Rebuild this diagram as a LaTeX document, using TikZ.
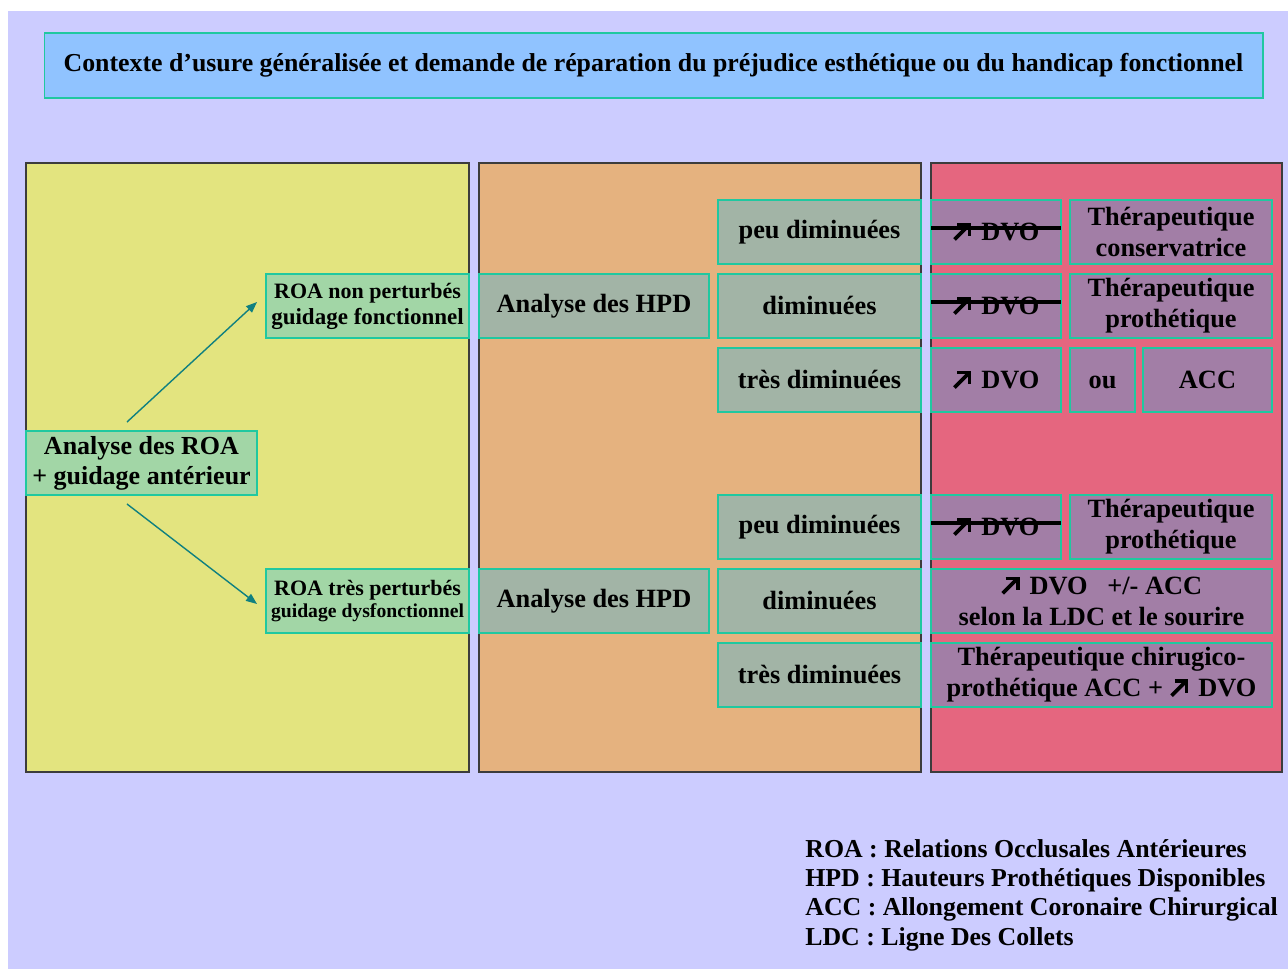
\documentclass[tikz,border=0pt]{standalone}
\usepackage{fontspec}
\setmainfont{Liberation Serif}
\usetikzlibrary{arrows.meta}

\definecolor{bgLav}{HTML}{CCCCFF}
\definecolor{titleBlue}{HTML}{90C3FF}
\definecolor{boxLine}{HTML}{20C8A0}
\definecolor{panelLine}{HTML}{3C3C3C}
\definecolor{panelYellow}{HTML}{E3E47F}
\definecolor{panelOrange}{HTML}{E5B27F}
\definecolor{panelPink}{HTML}{E5667F}
\definecolor{roaGreen}{HTML}{A2D6A6}
\definecolor{hpdGrey}{HTML}{A2B4A6}
\definecolor{therPurple}{HTML}{A27EA6}
\definecolor{arrowTeal}{HTML}{108080}

% the thick north-east arrow in front of DVO
\newcommand{\dvoArrow}{\tikz[x=1cm, y=1cm, baseline=0pt]{%
  \draw[black, line width=2.1pt] (0.02,0.02) -- (0.29,0.29);
  \draw[black, line width=2.1pt, line join=miter] (0.08,0.32) -- (0.32,0.32) -- (0.32,0.08);}\hspace{0.2cm}}

\tikzset{
  panel/.style={draw=panelLine, line width=0.7pt},
  box/.style={draw=boxLine, line width=0.7pt, inner sep=0pt, outer sep=0pt,
    minimum height=1.28cm, align=center,
    font=\bfseries\fontsize{15}{17.5}\selectfont},
  titlebox/.style={box, fill=titleBlue, minimum width=24.38cm, minimum height=1.3cm,
    font=\bfseries\fontsize{14.7}{17}\selectfont},
  roabox/.style={box, fill=roaGreen},
  hpdbox/.style={box, fill=hpdGrey},
  therbox/.style={box, fill=therPurple},
  flow/.style={draw=arrowTeal, line width=0.8pt, -{Triangle[length=0.22cm, width=0.17cm]}},
  strike/.style={draw=black, line width=2.3pt},
}

\begin{document}
\begin{tikzpicture}[x=0.02cm, y=-0.02cm]
  \useasboundingbox (0,0) rectangle (1288,969);
  \fill[bgLav] (8,11) rectangle (1288,969);

  % the three columns
  \draw[panel, fill=panelYellow] (26,163) rectangle (469,772);
  \draw[panel, fill=panelOrange] (479,163) rectangle (921,772);
  \draw[panel, fill=panelPink] (931,163) rectangle (1282,772);

  \node[titlebox] (title) at (653.5,65.5) {Contexte d’usure généralisée et demande de réparation du préjudice esthétique ou du handicap fonctionnel};

  % ROA
  \node[roabox, minimum width=4.62cm, font=\bfseries\fontsize{14.8}{17}\selectfont] (roa) at (141.5,463) {Analyse des ROA\\+ guidage antérieur};
  \node[roabox, minimum width=4.06cm, font=\bfseries\fontsize{12.5}{14.8}\selectfont] (roaA) at (367.5,306)
    {ROA non perturbés\\\fontsize{13.1}{14.8}\selectfont guidage fonctionnel};
  \node[roabox, minimum width=4.06cm, font=\bfseries\fontsize{12.5}{13}\selectfont] (roaB) at (367.5,601)
    {ROA très perturbés\\\fontsize{11.2}{13}\selectfont guidage dysfonctionnel};

  % HPD
  \node[hpdbox, minimum width=4.6cm] (hpdA) at (594,306) {Analyse des HPD};
  \node[hpdbox, minimum width=4.6cm] (hpdB) at (594,601) {Analyse des HPD};

  \node[hpdbox, minimum width=4.06cm] (dimA1) at (819.5,232) {peu diminuées};
  \node[hpdbox, minimum width=4.06cm] (dimA2) at (819.5,306) {diminuées};
  \node[hpdbox, minimum width=4.06cm] (dimA3) at (819.5,380) {très diminuées};
  \node[hpdbox, minimum width=4.06cm] (dimB1) at (819.5,527) {peu diminuées};
  \node[hpdbox, minimum width=4.06cm] (dimB2) at (819.5,601) {diminuées};
  \node[hpdbox, minimum width=4.06cm] (dimB3) at (819.5,675) {très diminuées};

  % therapeutics
  \node[therbox, minimum width=2.6cm] (dvoA1) at (996,232) {\dvoArrow DVO};
  \node[therbox, minimum width=2.6cm] (dvoA2) at (996,306) {\dvoArrow DVO};
  \node[therbox, minimum width=2.6cm] (dvoA3) at (996,380) {\dvoArrow DVO};
  \node[therbox, minimum width=4.04cm] (therA1) at (1171,232) {Thérapeutique\\conservatrice};
  \node[therbox, minimum width=4.04cm] (therA2) at (1171,306) {Thérapeutique\\prothétique};
  \node[therbox, minimum width=1.3cm] (ouA3) at (1102.5,380) {\vphantom{ACC}ou};
  \node[therbox, minimum width=2.58cm] (accA3) at (1207.5,380) {ACC};

  \node[therbox, minimum width=2.6cm] (dvoB1) at (996,527) {\dvoArrow DVO};
  \node[therbox, minimum width=4.04cm] (therB1) at (1171,527) {Thérapeutique\\prothétique};
  \node[therbox, minimum width=6.82cm] (accB2) at (1101.5,601) {\dvoArrow DVO\ \ \ +/- ACC\\selon la LDC et le sourire};
  \node[therbox, minimum width=6.82cm] (chirB3) at (1101.5,675) {Thérapeutique chirugico-\\prothétique ACC + \dvoArrow DVO};

  \draw[strike] ([yshift=0.08cm]dvoA1.west) -- ([yshift=0.08cm]dvoA1.east);
  \draw[strike] ([yshift=0.08cm]dvoA2.west) -- ([yshift=0.08cm]dvoA2.east);
  \draw[strike] ([yshift=0.08cm]dvoB1.west) -- ([yshift=0.08cm]dvoB1.east);

  % arrows
  \draw[flow] ([xshift=-0.29cm, yshift=0.18cm]roa.north) -- ([xshift=-0.18cm, yshift=0.08cm]roaA.west);
  \draw[flow] ([xshift=-0.29cm, yshift=-0.18cm]roa.south) -- ([xshift=-0.18cm, yshift=-0.06cm]roaB.west);

  % legend
  \node[anchor=west, inner sep=0pt, align=left, font=\bfseries\fontsize{14.7}{16.7}\selectfont] (legend) at (805,895)
    {ROA : Relations Occlusales Antérieures\\HPD : Hauteurs Prothétiques Disponibles\\ACC : Allongement Coronaire Chirurgical\\LDC : Ligne Des Collets};
\end{tikzpicture}
\end{document}
